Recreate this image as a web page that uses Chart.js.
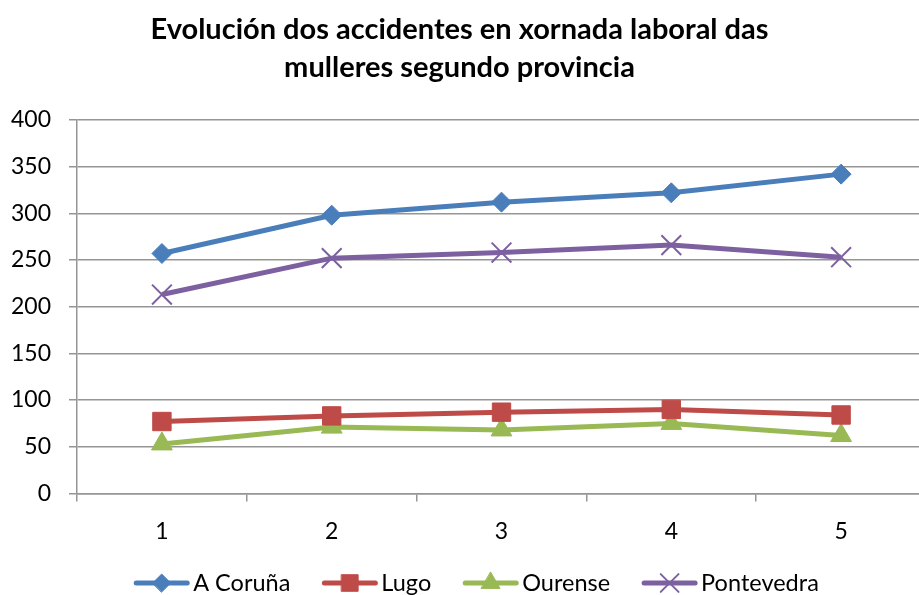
<!DOCTYPE html>
<html>
<head>
<meta charset="utf-8">
<script src="https://cdn.jsdelivr.net/npm/chart.js@4"></script>
<style>
  html, body { margin: 0; padding: 0; background: #fff; overflow: hidden; }
  canvas { display: block; }
</style>
</head>
<body>
<canvas id="chart" width="944" height="595"></canvas>
<script>
const titleLines = ["Evolución dos accidentes en xornada laboral das", "mulleres segundo provincia"];
const categories = ["1", "2", "3", "4", "5"];
const seriesNames = ["A Coruña", "Lugo", "Ourense", "Pontevedra"];
const aCoruna = [257, 298, 312, 322, 342];
const lugo = [77, 83, 87, 90, 84];
const ourense = [53, 71, 68, 75, 62];
const pontevedra = [213, 252, 258, 266, 253];
const yTicks = [0, 50, 100, 150, 200, 250, 300, 350, 400];

const colors = ["#4a7ebb", "#be4b48", "#98b954", "#7d60a0"];
const styles = ["rectRot", "rect", "triangle", "crossRot"];
const radii = [10, 13, 12, 14];
const borders = [1, 1, 1, 2];

// bottom legend drawn by hand: line + marker, then the name
const lineLegend = {
    id: "lineLegend",
    afterDraw(chart) {
        const g = chart.ctx;
        const y = 583;
        const swatchW = 57, gapText = 3, gapItem = 31;
        g.save();
        g.font = "23.5px Lato";
        g.textBaseline = "middle";
        const widths = seriesNames.map(n => g.measureText(n).width);
        const total = widths.reduce((a, w) => a + swatchW + gapText + w, 0) + gapItem * (seriesNames.length - 1);
        let x = 476 - total / 2;
        seriesNames.forEach((name, i) => {
            g.strokeStyle = colors[i];
            g.fillStyle = colors[i];
            g.lineWidth = 5;
            g.lineCap = "round";
            g.beginPath(); g.moveTo(x + 3, y); g.lineTo(x + swatchW - 3, y); g.stroke();
            g.lineWidth = borders[i];
            Chart.helpers.drawPoint(g, {
                pointStyle: styles[i], radius: radii[i] * 0.9, borderWidth: borders[i], rotation: 0
            }, x + swatchW / 2, y);
            g.fillStyle = "#000";
            g.fillText(name, x + swatchW + gapText, y);
            x += swatchW + gapText + widths[i] + gapItem;
        });
        g.restore();
    }
};

const ctx = document.getElementById("chart");
const allData = [aCoruna, lugo, ourense, pontevedra];

new Chart(ctx, {
    type: "line",
    data: {
        labels: categories,
        datasets: allData.map((d, i) => ({
            label: seriesNames[i],
            data: d,
            borderColor: colors[i],
            backgroundColor: colors[i],
            borderWidth: 5,
            pointStyle: styles[i],
            pointRadius: radii[i],
            pointBorderWidth: borders[i],
            pointBorderColor: colors[i],
            pointBackgroundColor: colors[i],
            tension: 0
        }))
    },
    options: {
        responsive: false,
        animation: false,
        layout: { padding: { left: -7, right: 18, top: 11, bottom: 34 } },
        plugins: {
            title: {
                display: true,
                text: titleLines,
                color: "#000",
                font: { family: "Lato", size: 29, weight: "bold", lineHeight: 1.31 },
                padding: { top: 0, bottom: 33 }
            },
            legend: { display: false },
            tooltip: { enabled: false }
        },
        scales: {
            x: {
                offset: true,
                grid: {
                    offset: true,
                    drawOnChartArea: false,
                    drawTicks: true,
                    tickLength: 8,
                    color: "#959595",
                    lineWidth: 1.5
                },
                border: { color: "#959595", width: 1.5 },
                ticks: {
                    color: "#000",
                    font: { family: "Lato", size: 23 },
                    padding: 16
                }
            },
            y: {
                min: 0,
                max: 400,
                afterBuildTicks: axis => { axis.ticks = yTicks.map(v => ({ value: v })); },
                grid: {
                    color: "#959595",
                    lineWidth: 1.5,
                    drawTicks: true,
                    tickLength: 8
                },
                border: { color: "#959595", width: 1.5 },
                ticks: {
                    color: "#000",
                    font: { family: "Lato", size: 23 },
                    padding: 18
                }
            }
        }
    },
    plugins: [lineLegend]
});
</script>
</body>
</html>
